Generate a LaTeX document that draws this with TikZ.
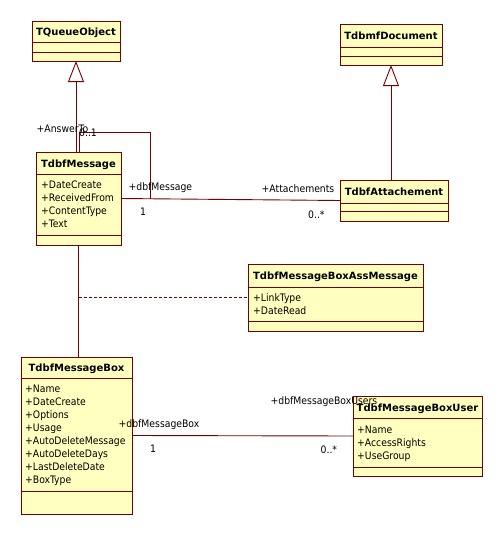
\documentclass[tikz,border=0pt]{standalone}
\usepackage{fontspec}
\setmainfont{DejaVu Sans Condensed}
\newfontfamily\titlefont{DejaVu Sans}
\usetikzlibrary{arrows.meta}
\definecolor{umlfill}{HTML}{FFFFC0}
\definecolor{umlline}{HTML}{7A0000}
\tikzset{
  clsbox/.style={draw=umlline, fill=umlfill, line width=0.9pt, inner sep=0pt, outer sep=0pt, rectangle},
  clsline/.style={draw=umlline, line width=0.9pt},
  clstitle/.style={font=\titlefont\bfseries\fontsize{10}{12}\selectfont, inner sep=0pt},
  attr/.style={font=\fontsize{10.3}{13}\selectfont, inner sep=0pt},
  lbl/.style={font=\fontsize{10.3}{13}\selectfont, inner sep=0pt, anchor=base west},
  conn/.style={draw=umlline, line width=0.9pt},
  gen/.style={conn, -{Triangle[open,length=21pt,width=16pt,line width=0.9pt]}},
  dashconn/.style={draw=umlline, line width=0.9pt, dash pattern=on 3pt off 2pt},
}
\newcommand\umlclass[8]{%
  \node[clsbox, minimum width={(#4-#2)*1pt}, minimum height={(#5-#3)*1pt}, anchor=north west] (#1) at (#2,#3) {};
  \draw[clsline] (#2,#6) -- (#4,#6);
  \draw[clsline] (#2,#7) -- (#4,#7);
  \node[clstitle, anchor=base] (#1-title) at ({(#2+#4)/2},{(#3+#6)/2+4}) {#8};
}
\newcommand\umlattrs[4]{%
  \foreach \t [count=\i from 0] in {#4}
    \node[attr, anchor=base west] (#1-a\i) at (#2,{#3+13*\i}) {\t};
}
\begin{document}
\begin{tikzpicture}[x=1pt,y=-1pt]
\useasboundingbox (0,0) rectangle (503,535);
\fill[white] (0,0) rectangle (503,535);

% classes
\umlclass{tq}{32}{21}{120}{61}{42}{52}{TQueueObject}
\umlclass{tdoc}{340}{24}{442}{65}{47}{56}{TdbmfDocument}
\umlclass{msg}{36}{152}{121}{245}{174}{235}{TdbfMessage}
\umlattrs{msg}{41}{188.5}{+DateCreate,+ReceivedFrom,+ContentType,+Text}
\umlclass{att}{340}{180}{448}{221}{203}{211}{TdbfAttachement}
\umlclass{ass}{248}{264}{423}{331}{287}{321}{TdbfMessageBoxAssMessage}
\umlattrs{ass}{253}{301}{+LinkType,+DateRead}
\umlclass{box}{21}{357}{132}{514}{378}{491}{TdbfMessageBox}
\umlattrs{box}{25}{392.5}{+Name,+DateCreate,+Options,+Usage,+AutoDeleteMessage,+AutoDeleteDays,+LastDeleteDate,+BoxType}
\umlclass{usr}{353}{396}{482}{476}{418}{467}{TdbfMessageBoxUser}
\umlattrs{usr}{357}{433}{+Name,+AccessRights,+UseGroup}

% generalizations
\draw[gen] (msg.north -| tq.south) -- (tq.south);
\draw[gen] (att.north -| tdoc.south) -- (tdoc.south);

% self association AnswerTo
\coordinate (selfA) at (150,132);
\draw[conn] ([xshift=0.5pt]msg.north) |- (selfA) -- (selfA |- msg.east);

% message -- attachement
\draw[conn] (msg.east) -- (att.west);

% message -- messagebox
\draw[conn] (msg.south) -- (box.north -| msg.south);
\coordinate (assoc-mid) at (msg.south |- ass.west);
\draw[dashconn] (assoc-mid) -- (ass.west);

% messagebox -- user
\draw[conn] (box.east) -- (usr.west);

% labels
\node[lbl] (l-answer) at (36.5,132) {+AnswerTo};
\node[lbl] (l-answer-m) at (79,136) {0..1};
\node[lbl] (l-dbfmsg) at (128.5,190) {+dbfMessage};
\node[lbl] (l-dbfmsg-m) at (140,215) {1};
\node[lbl] (l-att) at (261.5,192) {+Attachements};
\node[lbl] (l-att-m) at (308,218) {0..*};
\node[lbl] (l-box) at (118.5,427) {+dbfMessageBox};
\node[lbl] (l-box-m) at (150,452) {1};
\node[lbl] (l-usr) at (270.5,404) {+dbfMessageBoxUsers};
\node[lbl] (l-usr-m) at (320.5,453) {0..*};
\end{tikzpicture}
\end{document}
